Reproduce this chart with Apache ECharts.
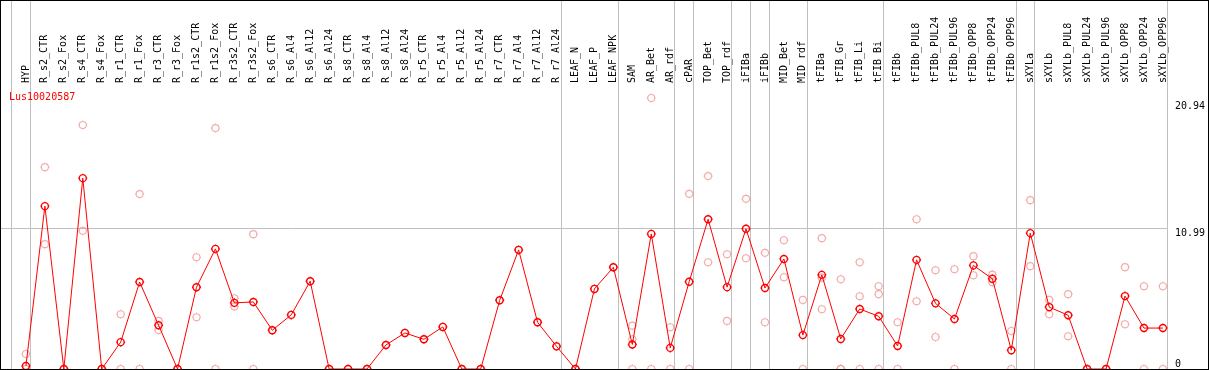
<!DOCTYPE html>
<html><head><meta charset="utf-8">
<script src="https://cdn.jsdelivr.net/npm/echarts@6/dist/echarts.min.js"></script>
<style>
html,body{margin:0;padding:0;background:#fff;}
#frame{width:1209px;height:370px;box-sizing:border-box;border:1px solid #000;}
#chart{width:1207px;height:368px;}
</style></head><body>
<div id="frame"><div id="chart"></div></div>
<script>
const geneId = 'Lus10020587';
const categories = ['HYP','R_s2_CTR','R_s2_Fox','R_s4_CTR','R_s4_Fox','R_r1_CTR','R_r1_Fox','R_r3_CTR','R_r3_Fox',
  'R_r1s2_CTR','R_r1s2_Fox','R_r3s2_CTR','R_r3s2_Fox','R_s6_CTR','R_s6_Al4','R_s6_Al12','R_s6_Al24',
  'R_s8_CTR','R_s8_Al4','R_s8_Al12','R_s8_Al24','R_r5_CTR','R_r5_Al4','R_r5_Al12','R_r5_Al24',
  'R_r7_CTR','R_r7_Al4','R_r7_Al12','R_r7_Al24','LEAF_N','LEAF_P','LEAF_NPK','SAM','AR_Bet','AR_rdf',
  'cPAR','TOP_Bet','TOP_rdf','iFIBa','iFIBb','MID_Bet','MID_rdf','tFIBa','tFIB_Gr','tFIB_Li','tFIB_Bi',
  'tFIBb','tFIBb_PUL8','tFIBb_PUL24','tFIBb_PUL96','tFIBb_OPP8','tFIBb_OPP24','tFIBb_OPP96',
  'sXYLa','sXYLb','sXYLb_PUL8','sXYLb_PUL24','sXYLb_PUL96','sXYLb_OPP8','sXYLb_OPP24','sXYLb_OPP96'];
const means = [0.23,12.73,0,14.92,0,2.10,6.80,3.42,0,6.39,9.39,5.17,5.24,3.03,4.23,6.86,0,
  0,0,1.88,2.82,2.32,3.29,0,0,5.37,9.31,3.65,1.77,0,6.26,7.95,1.92,10.56,1.65,
  6.82,11.71,6.40,10.96,6.33,8.60,2.65,7.36,2.35,4.69,4.12,1.80,8.53,5.13,3.91,8.10,7.05,1.47,
  10.62,4.84,4.20,0,0,5.70,3.20,3.20];
const replicates = [[1.17,0],[15.78,9.76],[0],[19.07,10.80],[0],[4.28,0],[13.67,0],[3.76,3.05],[0],
  [8.74,4.05],[18.83,0],[5.53,4.88],[10.54,0],[3.03],[4.23],[6.86],[0],
  [0],[0],[1.88],[2.82],[2.32],[3.29],[0],[0],[5.37],[9.31],[3.65],[1.77],[0],[6.26],[7.95],
  [3.39,2.32,0],[21.18,0],[3.26,0],[13.69,0],[15.08,8.35],[8.97,3.76],[13.30,8.66],[9.08,3.65],
  [10.07,7.17],[5.40,0],[10.23,7.14,4.67],[7.02,0,0],[8.35,5.69,0],[6.47,5.85,0],
  [3.65,0],[11.71,5.30],[7.72,2.50],[7.80,0],[8.82,7.33],[7.38,6.78],[2.97,0],
  [13.20,8.04],[5.40,4.28],[5.85,2.56],[0],[0],[7.96,3.50],[6.47,0],[6.47,0]];
const yTickLabels = [0, 10.99, 20.94];
const gridValue = 10.99;
const groupEnds = [-1, 0, 28, 31, 34, 35, 37, 38, 39, 41, 45, 52, 53, 60];

const FONT = 'DejaVu Sans Mono';
// ring of radius 3.5 centred in a 9x9 box, with 1px ticks outside at N/E/S/W
const markerPath = 'path://M4.5 0L4.5 1M4.5 8L4.5 9M0 4.5L1 4.5M8 4.5L9 4.5' +
  'M8 4.5C8 6.433 6.433 8 4.5 8C2.567 8 1 6.433 1 4.5C1 2.567 2.567 1 4.5 1C6.433 1 8 2.567 8 4.5Z';

const lineData = means.map((v, i) => [i, v]);
const repData = [];
replicates.forEach((arr, i) => arr.forEach(v => repData.push([i, v])));
const sepData = groupEnds.map(g => [g + 0.25, 0]);

const chart = echarts.init(document.getElementById('chart'), null, {renderer: 'canvas'});
chart.setOption({
  animation: false,
  backgroundColor: '#fff',
  title: {
    text: geneId, left: 8, top: 91, padding: 0,
    textStyle: {color: '#ff0000', fontSize: 10, fontWeight: 'normal', fontFamily: FONT}
  },
  grid: {left: 0, right: 38, top: 84, bottom: 0, containLabel: false},
  xAxis: {
    type: 'value', position: 'top',
    min: -25 / 19, max: 1144 / 19,
    axisLine: {show: true, lineStyle: {color: '#000', width: 1}},
    axisTick: {show: false},
    splitLine: {show: false},
    axisLabel: {
      customValues: categories.map((_, i) => i),
      formatter: v => categories[Math.round(v)] || '',
      rotate: 90, margin: 2, padding: [0, 0, 3, 0], color: '#000', fontSize: 10, fontFamily: FONT
    }
  },
  yAxis: [
    {
      type: 'value', position: 'right', min: 0, max: 22.2,
      axisLine: {show: false}, axisTick: {show: false}, splitLine: {show: false},
      axisLabel: {customValues: yTickLabels.filter(v => v !== 0), verticalAlign: 'top', align: 'left',
        margin: 8, color: '#000', fontSize: 10, fontFamily: FONT}
    },
    {
      type: 'value', position: 'right', min: 0, max: 22.2,
      axisLine: {show: false}, axisTick: {show: false}, splitLine: {show: false},
      axisLabel: {customValues: yTickLabels.filter(v => v === 0), verticalAlign: 'bottom', align: 'left',
        margin: 8, color: '#000', fontSize: 10, fontFamily: FONT}
    }
  ],
  series: [
    {
      type: 'custom', coordinateSystem: 'cartesian2d', clip: false, silent: true, z: 1,
      data: sepData, encode: {x: 0, y: 1},
      renderItem: (params, api) => {
        const x = Math.floor(api.coord([api.value(0), 0])[0]) + 0.5;
        const cs = params.coordSys;
        return {type: 'line', shape: {x1: x, y1: 0, x2: x, y2: cs.y + cs.height},
          style: {stroke: '#c0c0c0', lineWidth: 1}};
      }
    },
    {
      type: 'scatter', z: 2, silent: true, clip: false,
      data: repData, symbol: markerPath, symbolSize: 9,
      itemStyle: {color: 'rgba(0,0,0,0)', borderColor: '#f09696', borderWidth: 1.1}
    },
    {
      type: 'line', z: 3, silent: true, clip: false,
      data: lineData, symbol: markerPath, symbolSize: 9, showAllSymbol: true,
      lineStyle: {color: '#ff0000', width: 1},
      itemStyle: {color: 'rgba(0,0,0,0)', borderColor: '#ff0000', borderWidth: 1.4},
      markLine: {
        silent: true, symbol: 'none', label: {show: false}, z: 0,
        lineStyle: {color: '#c0c0c0', type: 'solid', width: 1},
        data: [{yAxis: gridValue}]
      }
    }
  ]
});
</script>
</body></html>
